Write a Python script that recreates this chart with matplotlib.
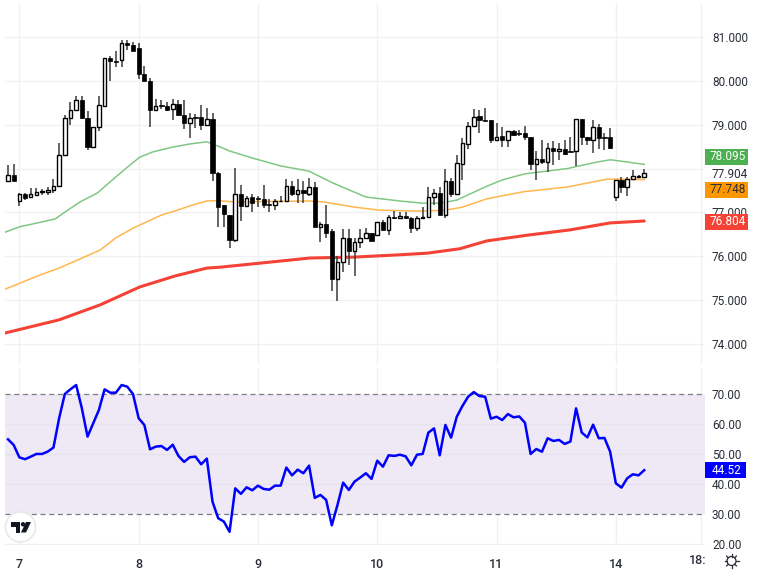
import numpy as np
import matplotlib
matplotlib.use("Agg")
import matplotlib.pyplot as plt
from matplotlib.patches import Circle, Polygon, Rectangle
from matplotlib.transforms import Bbox

plt.rcParams["font.family"] = ["Roboto", "DejaVu Sans"]

opens = [77.72, 77.86, 77.25, 77.41, 77.34, 77.40, 77.46, 77.47, 77.51, 77.60,
         78.31, 79.15, 79.34, 79.57, 79.15, 78.48, 78.94, 79.43, 80.52, 80.45,
         80.47, 80.86, 80.82, 80.76, 80.16, 80.00, 79.33, 79.43, 79.43, 79.36,
         79.48, 79.22, 79.04, 79.16, 79.18, 79.00, 79.12, 77.90, 77.16, 76.95,
         76.37, 77.41, 77.15, 77.34, 77.31, 77.31, 77.19, 77.18, 77.25, 77.25,
         77.61, 77.41, 77.52, 77.43, 77.59, 76.67, 76.74, 76.57, 75.49, 75.87,
         76.41, 76.13, 76.33, 76.41, 76.52, 76.48, 76.79, 76.60, 76.89, 76.87,
         76.92, 76.87, 76.65, 76.88, 76.89, 77.34, 77.45, 76.93, 77.72, 77.42,
         78.11, 78.56, 78.97, 79.20, 79.10, 79.10, 78.65, 78.74, 78.65, 78.85,
         78.80, 78.80, 78.71, 78.11, 78.22, 78.15, 78.46, 78.39, 78.44, 78.38,
         78.39, 79.14, 78.71, 78.65, 78.95, 78.71, 78.71, 77.35, 77.73, 77.58,
         77.77, 77.81, 77.81]
highs = [78.09, 78.11, 77.44, 77.44, 77.56, 77.56, 77.53, 77.57, 77.76, 78.58,
         79.23, 79.51, 79.66, 79.66, 79.31, 78.95, 79.66, 80.52, 80.57, 80.67,
         80.92, 80.92, 80.88, 80.86, 80.33, 80.07, 79.59, 79.57, 79.51, 79.59,
         79.57, 79.57, 79.27, 79.25, 79.44, 79.38, 79.27, 77.91, 77.16, 76.95,
         78.02, 77.62, 77.37, 77.43, 77.37, 77.62, 77.30, 77.31, 77.37, 77.76,
         77.72, 77.77, 77.72, 77.79, 77.70, 76.77, 77.18, 76.63, 76.00, 76.61,
         76.63, 76.41, 76.61, 76.64, 76.54, 76.78, 76.83, 76.93, 77.03, 77.00,
         77.00, 76.90, 76.92, 77.13, 77.57, 77.54, 77.57, 78.00, 77.79, 78.31,
         78.69, 79.05, 79.35, 79.33, 79.39, 79.10, 79.03, 78.94, 78.86, 78.88,
         78.89, 78.98, 78.71, 78.39, 78.65, 78.58, 78.63, 78.58, 78.65, 78.73,
         79.14, 79.14, 78.73, 79.11, 79.01, 78.82, 78.92, 77.73, 77.81, 77.81,
         77.97, 77.86, 77.99]
lows = [77.72, 77.72, 77.14, 77.29, 77.33, 77.39, 77.40, 77.39, 77.44, 77.60,
        78.31, 78.99, 79.34, 79.13, 78.42, 78.48, 78.85, 79.43, 80.00, 80.31,
        80.31, 80.71, 80.67, 80.04, 79.99, 78.95, 79.31, 79.36, 79.31, 79.10,
        79.19, 78.90, 78.70, 78.93, 78.87, 78.98, 77.72, 76.67, 76.67, 76.18,
        76.32, 76.80, 77.15, 77.01, 77.13, 77.11, 77.00, 77.06, 77.24, 77.25,
        77.37, 77.22, 77.21, 77.37, 76.67, 76.32, 76.42, 75.20, 74.97, 75.65,
        75.81, 75.56, 76.19, 76.40, 76.34, 76.48, 76.59, 76.48, 76.84, 76.86,
        76.86, 76.54, 76.57, 76.86, 76.89, 77.18, 76.93, 76.88, 77.34, 77.41,
        77.75, 78.45, 78.95, 78.80, 79.09, 78.59, 78.64, 78.48, 78.50, 78.75,
        78.74, 78.65, 77.97, 77.75, 78.11, 77.93, 78.09, 78.20, 78.31, 78.37,
        78.06, 78.54, 78.54, 78.35, 78.44, 78.43, 78.45, 77.26, 77.44, 77.38,
        77.76, 77.79, 77.80]
closes = [77.86, 77.72, 77.41, 77.33, 77.41, 77.47, 77.47, 77.50, 77.60, 78.32,
          79.15, 79.33, 79.57, 79.15, 78.48, 78.95, 79.44, 80.52, 80.45, 80.44,
          80.86, 80.82, 80.69, 80.15, 80.00, 79.33, 79.42, 79.42, 79.34, 79.48,
          79.21, 79.04, 79.15, 79.15, 79.00, 79.12, 77.90, 77.12, 76.97, 76.36,
          77.41, 77.15, 77.32, 77.21, 77.30, 77.18, 77.18, 77.26, 77.26, 77.61,
          77.41, 77.52, 77.44, 77.59, 76.67, 76.73, 76.54, 75.49, 75.87, 76.41,
          76.13, 76.33, 76.41, 76.52, 76.35, 76.78, 76.60, 76.90, 76.88, 76.92,
          76.87, 76.65, 76.87, 76.89, 77.35, 77.45, 76.93, 77.72, 77.43, 78.12,
          78.58, 78.98, 79.18, 79.10, 79.09, 78.65, 78.71, 78.65, 78.85, 78.77,
          78.79, 78.71, 78.11, 78.22, 78.15, 78.46, 78.41, 78.45, 78.34, 78.37,
          79.14, 78.71, 78.65, 78.95, 78.69, 78.69, 78.46, 77.73, 77.58, 77.77,
          77.83, 77.82, 77.90]

green_x = [-0.5, 2, 8.3, 10.5, 12.7, 15.7, 19, 21, 23.2, 25.5, 29, 32, 35, 37, 39, 43, 48, 53, 57.2,
           63, 69, 73, 76, 79, 84, 87, 91, 98.5, 103, 106, 109, 112]
green_y = [76.55, 76.67, 76.85, 77.05, 77.24, 77.44, 77.81, 78.03, 78.26, 78.38, 78.49, 78.56, 78.61,
           78.51, 78.40, 78.24, 78.06, 77.94, 77.67, 77.35, 77.26, 77.21, 77.21, 77.28, 77.58, 77.74,
           77.88, 78.00, 78.13, 78.20, 78.15, 78.095]
orange_x = [-0.5, 5.6, 9, 12.7, 16.2, 19, 22, 25, 27, 29.8, 32.5, 35, 37, 39.6, 53, 55.5, 61, 65.5,
            72.5, 77, 80, 84.3, 90.7, 98.5, 105.5, 112]
orange_y = [75.25, 75.57, 75.73, 75.94, 76.14, 76.42, 76.64, 76.82, 76.94, 77.05, 77.17, 77.26, 77.27,
            77.24, 77.26, 77.24, 77.12, 77.05, 77.03, 77.05, 77.12, 77.31, 77.47, 77.58, 77.76, 77.748]
red_x = [-0.5, 9, 16.2, 23.2, 29.4, 35, 37.3, 44.9, 53.2, 60.8, 68.5, 73.8, 79.5, 84.3, 91.4, 98.9, 106, 112]
red_y = [74.25, 74.55, 74.89, 75.30, 75.55, 75.73, 75.75, 75.85, 75.96, 75.98, 76.03, 76.07,
         76.17, 76.35, 76.48, 76.60, 76.76, 76.804]

rsi = [54.85, 52.95, 48.8, 48.2, 49.05, 49.95, 49.95, 50.75, 52.1, 61.9,
       70, 71.6, 73, 65.2, 55.75, 60.2, 64.65, 71.55, 70.45, 70.45,
       73, 72.45, 70, 61.9, 59.65, 51.5, 52.4, 52.6, 51.3, 53.05,
       49.3, 47.3, 48.85, 49.05, 46.5, 48.4, 34, 28.45, 27.35, 23.9,
       38.45, 36.6, 38.8, 37.8, 39.35, 38.25, 38, 39.35, 39.35, 45.4,
       42.8, 44.7, 43.5, 46.05, 35.25, 36.25, 34.6, 26.1, 32.9, 40.35,
       37.9, 40.7, 42.05, 43.5, 41.6, 47.7, 45.7, 49.5, 49.3, 49.7,
       49.15, 46.15, 49.7, 49.95, 57.1, 58.5, 49.5, 59.65, 55.4, 62.4,
       66, 69.1, 70.65, 69.3, 69.1, 61.75, 62.4, 61.3, 63.3, 62.2,
       62.5, 60.4, 49.95, 51.6, 50.7, 55.2, 54.3, 54.65, 53.3, 54.1,
       65.2, 57.1, 55.5, 59.75, 55.2, 55.3, 50.7, 40.15, 38.7, 41.8,
       43.15, 42.8, 44.52]

day_pos = [2, 23, 44, 65, 86, 107]
day_labels = ["7", "8", "9", "10", "11", "14"]
price_grid = [74, 75, 76, 77, 78, 79, 80, 81]
price_ticks = [74, 75, 76, 77, 77.904, 79, 80, 81]
rsi_ticks = [20, 30, 40, 50, 60, 70]

W, H = 758, 576
TEXT = "#2a2e39"
GRID = "#f0f1f3"


def pane(left, top, right, bottom):
    return fig.add_axes([left / W, 1 - bottom / H, (right - left) / W, (bottom - top) / H])


fig = plt.figure(figsize=(W / 100, H / 100), dpi=100, facecolor="white")
ax = pane(5, 3, 705, 365)
ax_rsi = pane(5, 368, 705, 545)

for a in (ax, ax_rsi):
    a.set_xlim(-0.53, 122.7)
    for s in a.spines.values():
        s.set_visible(False)
    a.yaxis.tick_right()
    a.tick_params(length=0, labelsize=8.5, labelcolor=TEXT, pad=5)
    for d in day_pos + [122]:
        a.axvline(d, color=GRID, lw=1, zorder=0)

# price pane
ax.set_ylim(73.52, 81.775)
for p in price_grid:
    ax.axhline(p, color=GRID, lw=1, zorder=0)
ax.set_yticks(price_ticks, [f"{p:.3f}" for p in price_ticks])
ax.set_xticks([])

ax.plot(green_x, green_y, color="#81c784", lw=1.1, zorder=2)
ax.plot(orange_x, orange_y, color="#ffb74d", lw=1.1, zorder=2)
ax.plot(red_x, red_y, color="#f44336", lw=2.2, zorder=2, solid_capstyle="round")

idx = np.arange(len(opens))
o, h, l, c = map(np.array, (opens, highs, lows, closes))
ax.vlines(idx, l, h, color="#3a3a3a", lw=1.1, zorder=3)
up = c >= o
ax.bar(idx[up], np.maximum(c - o, 0.02)[up], bottom=o[up], width=0.62,
       facecolor="white", edgecolor="black", lw=1.0, zorder=4)
ax.bar(idx[~up], np.maximum(o - c, 0.02)[~up], bottom=c[~up], width=0.75,
       facecolor="black", edgecolor="black", lw=0.5, zorder=4)

# rsi pane
ax_rsi.set_ylim(19.5, 78.7)
ax_rsi.axhspan(30, 70, color="#efe9f6", lw=0, zorder=0.5)
for v in (20, 40, 50, 60):
    ax_rsi.axhline(v, color="#e6e3ee" if v != 20 else GRID, lw=1, zorder=0.6)
for v in (30, 70):
    ax_rsi.axhline(v, color="#787b86", lw=0.9, ls=(0, (4, 3)), zorder=1)
ax_rsi.plot(idx, rsi, color="#0000ff", lw=1.8, zorder=3)
ax_rsi.set_yticks(rsi_ticks, [f"{v:.2f}" for v in rsi_ticks])
ax_rsi.set_xticks(day_pos, day_labels, fontweight="medium")
ax_rsi.tick_params(axis="x", pad=9, labelsize=9)

# overlay in pixels for the price tags and the small icons
ov = fig.add_axes([0, 0, 1, 1], facecolor="none")
ov.set_xlim(0, W)
ov.set_ylim(H, 0)
ov.axis("off")

tags = [("78.095", 157, "#4caf50", "white", 748), ("77.748", 189.5, "#ff9800", TEXT, 748),
        ("76.804", 221.5, "#f44336", "white", 748), ("44.52", 470, "#0000ff", "white", 746)]
for text, y, col, tc, x1 in tags:
    ov.add_patch(Rectangle((705, y - 8), x1 - 705, 16, facecolor=col, edgecolor="none", zorder=5))
    ov.text((705 + x1) / 2 + 1, y, text, color=tc, fontsize=8.5, ha="center", va="center", zorder=6)

t = ov.text(689, 560, "18:00", color=TEXT, fontsize=9, fontweight="medium", ha="left", va="center")
t.set_clip_box(Bbox([[680, 0], [705, H]]))
t.set_clip_on(True)

# settings wheel
ov.add_patch(Circle((731.5, 561), 4.5, facecolor="none", edgecolor="#2a2e39", lw=0.9))
for ang in np.arange(0, 360, 45):
    dx, dy = np.cos(np.radians(ang)), np.sin(np.radians(ang))
    ov.plot([731.5 + 4.5 * dx, 731.5 + 7 * dx], [561 + 4.5 * dy, 561 + 7 * dy], color="#2a2e39", lw=0.9)

# logo
ov.add_patch(Circle((20.5, 527), 15, facecolor="white", edgecolor="#e6e6e8", lw=1, zorder=5))
ov.add_patch(Polygon([(10.5, 522), (20, 522), (20, 532.5), (15.5, 532.5), (15.5, 526.5), (10.5, 526.5)],
                     facecolor="#131722", edgecolor="none", zorder=6))
ov.add_patch(Circle((23, 524.3), 2.2, facecolor="#131722", edgecolor="none", zorder=6))
ov.add_patch(Polygon([(26, 522), (31, 522), (26, 532.5), (21, 532.5)], facecolor="#131722", edgecolor="none", zorder=6))

plt.savefig("out.png", dpi=100)
plt.close()
